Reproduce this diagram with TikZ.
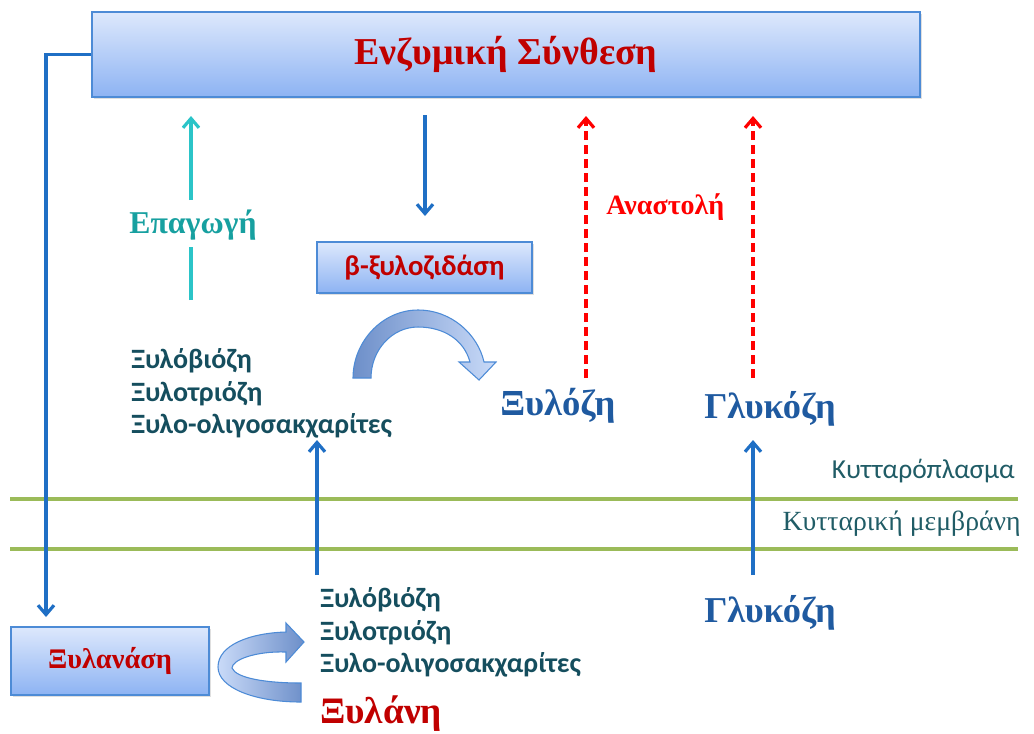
\documentclass[tikz,border=0pt]{standalone}
\usepackage{fontspec}
\setmainfont{Liberation Serif}
\newfontfamily\sansgr{Carlito}
\usetikzlibrary{arrows.meta,shadows}
\definecolor{boxtop}{HTML}{DDE8FC}
\definecolor{boxbot}{HTML}{8DB3F3}
\definecolor{boxborder}{HTML}{4D8BD6}
\definecolor{titlered}{HTML}{C00000}
\definecolor{flowblue}{HTML}{1F6FC5}
\definecolor{cyanarrow}{HTML}{2BC4C8}
\definecolor{indteal}{HTML}{17A0A0}
\definecolor{sugarblue}{HTML}{1F5AA0}
\definecolor{darkteal}{HTML}{154E5E}
\definecolor{memgreen}{HTML}{9BBB59}
\definecolor{celltext}{HTML}{205C66}
\definecolor{arrowlight}{HTML}{C9DAF8}
\definecolor{arrowdark}{HTML}{6D8FC9}
\tikzset{
  gbox/.style={draw=boxborder, line width=0.9pt, top color=boxtop, bottom color=boxbot,
    inner sep=0pt, drop shadow={shadow xshift=1.2pt, shadow yshift=-1.5pt, opacity=0.25}},
  tipb/.style={-{Straight Barb[length=7pt,width=12pt,line width=2.4pt]}},
  flow/.style={draw=flowblue, line width=2.6pt, tipb},
  induce/.style={draw=cyanarrow, line width=2.6pt},
  inhibit/.style={draw=red, line width=2.6pt, dash pattern=on 6.5pt off 4pt, tipb},
  membrane/.style={draw=memgreen, line width=2.8pt},
  sugarlist/.style={text=darkteal, font=\sansgr\bfseries\fontsize{21}{25}\selectfont, anchor=base west, inner sep=0pt},
  bigsugar/.style={text=sugarblue, font=\bfseries\fontsize{27.3}{32}\selectfont, anchor=base west, inner sep=0pt},
  blockarrow/.style={draw=boxborder, line width=0.8pt, left color=arrowdark, right color=arrowlight},
}
\begin{document}
\begin{tikzpicture}[x=0.75pt, y=-0.75pt]
\useasboundingbox (0,0) rectangle (1034,733);
% membranes
\draw[membrane] (10,499) -- (1018,499);
\draw[membrane] (10,549) -- (1018,549);
\node[text=celltext, font=\sansgr\fontsize{20.6}{24}\selectfont, anchor=base east, inner sep=0pt] (cyto) at (1015,478) {Κυτταρόπλασμα};
\node[text=celltext, font=\fontsize{20.8}{24}\selectfont, anchor=base east, inner sep=0pt] (memb) at (1021,530) {Κυτταρική μεμβράνη};
% boxes
\node[gbox, minimum width=621pt, minimum height=63.75pt, text=titlered, font=\bfseries\fontsize{28.5}{32}\selectfont] (synth) at (506,54.5) {Ενζυμική Σύνθεση};
\node[gbox, minimum width=161.25pt, minimum height=38.25pt, text=titlered, font=\sansgr\bfseries\fontsize{21.5}{25}\selectfont] (bxyl) at (424.5,267.5) {β-ξυλοζιδάση};
\node[gbox, minimum width=148.5pt, minimum height=51pt, text=titlered, font=\bfseries\fontsize{21.3}{25}\selectfont] (xylanase) at (110,661) {Ξυλανάση};
% texts
\node[text=indteal, font=\bfseries\fontsize{23.8}{28}\selectfont, inner sep=0pt, anchor=base] (induction) at (193,233) {Επαγωγή};
\node[text=red, font=\bfseries\fontsize{21}{25}\selectfont, inner sep=0pt, anchor=base west] (inhib) at (606,214) {Αναστολή};
\node[sugarlist] (in1) at (131,368) {Ξυλόβιόζη};
\node[sugarlist] (in2) at (131,401) {Ξυλοτριόζη};
\node[sugarlist] (in3) at (131,433) {Ξυλο-ολιγοσακχαρίτες};
\node[sugarlist] (out1) at (320,607) {Ξυλόβιόζη};
\node[sugarlist] (out2) at (320,640) {Ξυλοτριόζη};
\node[sugarlist] (out3) at (320,672) {Ξυλο-ολιγοσακχαρίτες};
\node[bigsugar, font=\bfseries\fontsize{27.5}{32}\selectfont] (xylose) at (500,415) {Ξυλόζη};
\node[bigsugar] (gluin) at (704,418) {Γλυκόζη};
\node[bigsugar] (gluout) at (704,622) {Γλυκόζη};
\node[text=titlered, font=\bfseries\fontsize{28}{33}\selectfont, inner sep=0pt, anchor=base west] (xylan) at (320,723) {Ξυλάνη};
% coordinates
\coordinate (corner) at (46,54.5);
\coordinate (xyltop) at (46,617);
\coordinate (indlow) at (191,300);
\coordinate (indgap1) at (191,247);
\coordinate (indgap2) at (191,200);
\coordinate (indtop) at (191,116);
\coordinate (downst) at (425,115);
\coordinate (downen) at (425,216);
\coordinate (inh1a) at (586,378);
\coordinate (inh1b) at (586,116);
\coordinate (inh2a) at (753,378);
\coordinate (inh2b) at (753,116);
\coordinate (upxa) at (317,575);
\coordinate (upxb) at (317,440);
\coordinate (upga) at (753,575);
\coordinate (upgb) at (753,440);
% connectors
\draw[flow] (synth.west) -- (corner) -- (xyltop);
\draw[induce] (indlow) -- (indgap1);
\draw[induce, tipb] (indgap2) -- (indtop);
\draw[flow] (downst) -- (downen);
\draw[inhibit] (inh1a) -- (inh1b);
\draw[inhibit] (inh2a) -- (inh2b);
\draw[flow] (upxa) -- (upxb);
\draw[flow] (upga) -- (upgb);
% curved block arrows
\path[blockarrow] (353,378) .. controls (353,342) and (382,310) .. (418,310)
  .. controls (452,310) and (478,335) .. (484,362) -- (496,362) -- (479,380) -- (459,362) -- (470,362)
  .. controls (464,340) and (444,327) .. (418,327)
  .. controls (392,327) and (371,350) .. (371,378) -- cycle;
\path[blockarrow, left color=arrowlight, right color=arrowdark] (301,702) .. controls (255,702) and (218,688) .. (218,667)
  .. controls (218,645) and (250,633) .. (286,632) -- (286,623) -- (304,642) -- (286,662) -- (286,652)
  .. controls (255,651) and (232,660) .. (232,668)
  .. controls (236,678) and (265,683) .. (301,683) -- cycle;
\end{tikzpicture}
\end{document}
